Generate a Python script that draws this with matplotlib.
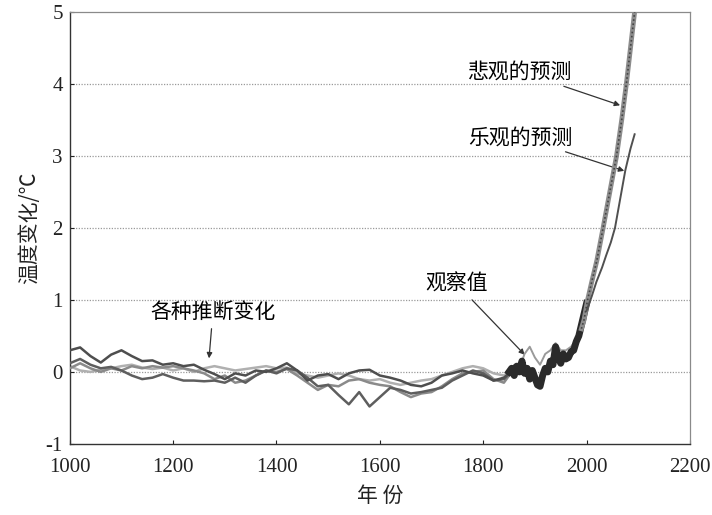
import matplotlib
matplotlib.use("Agg")
import matplotlib.pyplot as plt

plt.rcParams["font.family"] = ["Liberation Serif", "Noto Sans CJK SC"]
plt.rcParams["axes.unicode_minus"] = False
CJK = ["Noto Sans CJK SC", "DejaVu Sans"]

# proxy reconstructions, 1000-1850
proxy_years = list(range(1000, 1841, 20)) + [1850]
proxy_a = [0.30, 0.34, 0.22, 0.13, 0.24, 0.30, 0.22, 0.15, 0.16, 0.10, 0.12, 0.08, 0.10, 0.03, -0.03,
           -0.10, -0.02, -0.05, 0.02, 0.00, 0.05, 0.12, 0.02, -0.12, -0.05, -0.03, -0.10, -0.02, 0.02,
           0.03, -0.05, -0.08, -0.12, -0.18, -0.20, -0.15, -0.05, -0.02, 0.02, -0.02, -0.05, -0.12,
           -0.08, -0.02]
proxy_b = [0.12, 0.18, 0.10, 0.05, 0.07, 0.02, -0.05, -0.10, -0.08, -0.03, -0.08, -0.12, -0.12, -0.13,
           -0.12, -0.15, -0.08, -0.15, -0.05, 0.02, -0.02, 0.05, 0.02, -0.08, -0.20, -0.18, -0.32,
           -0.45, -0.28, -0.48, -0.35, -0.22, -0.25, -0.30, -0.28, -0.25, -0.22, -0.12, -0.05, 0.02,
           -0.02, -0.12, -0.10, -0.03]
proxy_c = [0.05, 0.12, 0.05, 0.00, 0.05, 0.02, 0.08, 0.05, 0.08, 0.06, 0.08, 0.05, 0.02, -0.02, -0.10,
           -0.05, -0.15, -0.12, -0.05, 0.02, 0.00, 0.04, -0.05, -0.15, -0.25, -0.18, -0.20, -0.12,
           -0.10, -0.15, -0.18, -0.20, -0.28, -0.35, -0.30, -0.28, -0.20, -0.10, -0.02, 0.00, 0.02,
           -0.10, -0.15, -0.05]
proxy_d = [0.08, 0.02, 0.00, 0.03, 0.05, 0.08, 0.10, 0.06, 0.04, 0.06, 0.02, 0.05, 0.00, 0.05, 0.08,
           0.05, 0.02, 0.04, 0.06, 0.08, 0.05, 0.06, -0.02, -0.05, -0.08, -0.05, -0.02, -0.05, -0.10,
           -0.12, -0.10, -0.15, -0.18, -0.15, -0.12, -0.10, -0.05, 0.00, 0.05, 0.08, 0.05, -0.02,
           -0.05, 0.00]

# observed record
obs_years = list(range(1850, 2001, 5))
obs_vals = [0.00, 0.05, -0.05, 0.08, 0.00, 0.15, -0.02, 0.05, -0.10, 0.02, -0.08, -0.18, -0.20, -0.05,
            0.05, 0.00, 0.15, 0.10, 0.35, 0.20, 0.12, 0.25, 0.18, 0.20, 0.28, 0.30, 0.42, 0.50, 0.65,
            0.80, 0.95]
obs2_years = [1850, 1860, 1870, 1880, 1890, 1900, 1910, 1920, 1930, 1940, 1950, 1960, 1970, 1980]
obs2_vals = [0.00, 0.10, 0.05, 0.25, 0.35, 0.20, 0.10, 0.25, 0.30, 0.40, 0.30, 0.30, 0.35, 0.45]

# projections
pess_years = [1990, 1995, 2002, 2010, 2020, 2032, 2045, 2058, 2068, 2077, 2085, 2093, 2096]
pess_vals = [0.60, 0.72, 1.00, 1.25, 1.55, 2.00, 2.50, 3.00, 3.50, 4.00, 4.50, 5.00, 5.20]
opt_years = [2000, 2010, 2019, 2030, 2038, 2047, 2055, 2065, 2075, 2085, 2093]
opt_vals = [0.85, 1.05, 1.25, 1.45, 1.62, 1.80, 2.00, 2.40, 2.80, 3.10, 3.30]

x_ticks = [1000, 1200, 1400, 1600, 1800, 2000, 2200]
y_ticks = [-1, 0, 1, 2, 3, 4, 5]

fig = plt.figure(figsize=(7.12, 5.15), dpi=100)
ax = fig.add_axes([0.098, 0.138, 0.871, 0.839])

for v in [0, 1, 2, 3, 4]:
    ax.axhline(v, color="#9a9a9a", lw=0.9, ls=(0, (1, 1.2)), zorder=1)

ax.plot(proxy_years, proxy_d, color="#b0b0b0", lw=1.8, zorder=2)
ax.plot(proxy_years, proxy_c, color="#8a8a8a", lw=1.8, zorder=3)
ax.plot(proxy_years, proxy_b, color="#5e5e5e", lw=1.8, zorder=3)
ax.plot(proxy_years, proxy_a, color="#4e4e4e", lw=1.8, zorder=4)

ax.plot(obs2_years, obs2_vals, color="#9a9a9a", lw=1.4, zorder=4)
ax.plot(obs_years, obs_vals, color="#2a2a2a", lw=5, zorder=5)

ax.plot(pess_years, pess_vals, color="#8c8c8c", lw=3.5, zorder=6)
ax.plot(pess_years, pess_vals, color="#444444", lw=1.2, ls=(0, (1, 1.5)), zorder=7)
ax.plot(opt_years, opt_vals, color="#505050", lw=1.4, zorder=6)

ax.set_xlim(1000, 2200)
ax.set_ylim(-1, 5)
ax.set_xticks(x_ticks)
ax.set_yticks(y_ticks)
ax.tick_params(axis="both", direction="in", length=3, labelsize=15, colors="#222222")
ax.tick_params(axis="x", pad=10)
ax.tick_params(axis="y", pad=5)

for s in ["left", "bottom"]:
    ax.spines[s].set_color("#333333")
    ax.spines[s].set_linewidth(1.0)
for s in ["top", "right"]:
    ax.spines[s].set_color("#8a8a8a")
    ax.spines[s].set_linewidth(0.9)

ax.set_xlabel("年 份", family=CJK, fontsize=15, labelpad=6, color="#222222")
ax.set_ylabel("温度变化/℃", family=CJK, fontsize=15, labelpad=4, color="#222222")

arrow = dict(arrowstyle="-|>", color="#333333", lw=0.9, mutation_scale=8)
ax.annotate("悲观的预测", xy=(2070, 3.69), xytext=(1973, 4.17), family=CJK, fontsize=15,
            ha="right", va="center", arrowprops=arrow)
ax.annotate("乐观的预测", xy=(2078, 2.78), xytext=(1973, 3.26), family=CJK, fontsize=15,
            ha="right", va="center", arrowprops=arrow)
ax.annotate("观察值", xy=(1884, 0.21), xytext=(1749, 1.22), family=CJK, fontsize=15,
            ha="center", va="center", arrowprops=arrow)
ax.annotate("各种推断变化", xy=(1269, 0.15), xytext=(1277, 0.83), family=CJK, fontsize=15,
            ha="center", va="center", arrowprops=arrow)

fig.savefig("out.png", dpi=100)
